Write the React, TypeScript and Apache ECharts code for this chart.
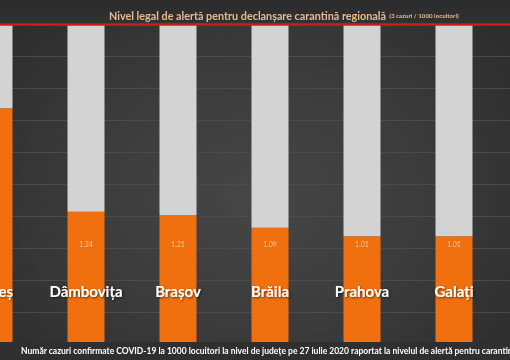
import React, { useEffect, useRef } from "react";
import * as echarts from "echarts";

const counties = ["Argeș", "Dâmbovița", "Brașov", "Brăila", "Prahova", "Galați", ""];
const casesPer1000 = [2.21, 1.24, 1.21, 1.09, 1.01, 1.01, null];
const alertLevel = 3;
const yTicks = { min: 0, max: 3, interval: 0.3 };
const titleMain = "Nivel legal de alertă pentru declanșare carantină regională";
const titleSub = "(3 cazuri / 1000 locuitori)";
const footer =
  "Număr cazuri confirmate COVID-19 la 1000 locuitori la nivel de județe pe 27 iulie 2020 raportat la nivelul de alertă pentru carantin";

const OFFSET = 52; // chart canvas extends past the left edge of the frame

export default function App() {
  const ref = useRef<HTMLDivElement>(null);
  useEffect(() => {
    if (!ref.current) return;
    const chart = echarts.init(ref.current, null, { renderer: "svg" });
    const remainder = casesPer1000.map((v) => (v == null ? null : +(alertLevel - v).toFixed(2)));
    chart.setOption({
      animation: false,
      backgroundColor: "transparent",
      textStyle: { fontFamily: "Lato" },
      grid: { left: 0, right: 0, top: 24, bottom: 16, containLabel: false },
      xAxis: {
        type: "category",
        data: counties,
        axisLine: { show: false },
        axisTick: { show: false },
        axisLabel: {
          inside: true,
          interval: 0,
          margin: 46,
          color: "#ffffff",
          fontFamily: "Lato",
          fontWeight: "bold",
          fontSize: 15,
          textShadowColor: "rgba(0,0,0,0.6)",
          textShadowBlur: 2,
          textShadowOffsetX: 1,
          textShadowOffsetY: 1,
        },
        splitLine: { show: false },
        z: 10,
      },
      yAxis: {
        type: "value",
        min: yTicks.min,
        max: yTicks.max,
        interval: yTicks.interval,
        axisLabel: { show: false },
        axisLine: { show: false },
        axisTick: { show: false },
        splitLine: { lineStyle: { color: "#4b4b4b", width: 1 } },
      },
      series: [
        {
          type: "bar",
          stack: "s",
          data: casesPer1000,
          barWidth: 37,
          itemStyle: { color: "#f07010" },
          label: {
            show: true,
            position: "insideBottom",
            distance: 97,
            color: "#f8caa2",
            fontSize: 7,
            fontFamily: "Lato",
            formatter: (p: any) => Number(p.value).toFixed(2),
          },
        },
        {
          type: "bar",
          stack: "s",
          data: remainder,
          barWidth: 37,
          itemStyle: { color: "#d3d3d3" },
          markLine: {
            silent: true,
            symbol: "none",
            label: { show: false },
            lineStyle: { color: "#d21a1a", width: 2.5, type: "solid" },
            data: [{ yAxis: alertLevel }],
          },
        },
      ],
      graphic: [
        {
          type: "text",
          z: 101,
          x: OFFSET + 109,
          y: 15,
          style: {
            text: `{a|${titleMain}} {b|${titleSub}}`,
            verticalAlign: "middle",
            rich: {
              a: { fontFamily: "Lato", fontWeight: "bold", fontSize: 10.8, fill: "#e9b890" },
              b: { fontFamily: "Lato", fontWeight: "bold", fontSize: 6.2, fill: "#e9b890" },
            },
          },
        },
        {
          type: "rect",
          z: 100,
          shape: { x: 0, y: 342, width: 700, height: 18 },
          style: { fill: "#2f2f2f" },
        },
        {
          type: "text",
          z: 101,
          x: OFFSET + 21,
          y: 351,
          style: {
            text: footer,
            fill: "#ffffff",
            font: "bold 8.5px Lato",
            verticalAlign: "middle",
          },
        },
      ],
    });
    return () => chart.dispose();
  }, []);
  return (
    <div style={{ position: "fixed", left: 0, top: 0, width: 510, height: 360, overflow: "hidden",
      background:
        "linear-gradient(to bottom, #2b2b2b 0px, #313131 22px, transparent 22px), radial-gradient(ellipse at 50% 55%, #464646 0%, #3c3c3c 45%, #2a2a2a 100%)" }}>
      <div
        ref={ref}
        style={{ position: "absolute", left: -OFFSET, top: 0, width: 92 * 7, height: 360 }}
      />
    </div>
  );
}
